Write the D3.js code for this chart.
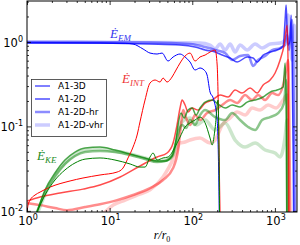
<!DOCTYPE html>
<html><head><meta charset="utf-8">
<script src="https://cdn.jsdelivr.net/npm/d3@7"></script>
<style>body{margin:0;background:#fff} svg{display:block}</style>
</head><body><svg id="c" width="300" height="245"></svg>
<script>
// ---- data (r/r0, value) ----
const rEM3D = [1, 2.51, 7.65, 15.4, 19.2, 25.4, 30.8, 37.5, 43.1, 50.9, 58.6, 71.1, 81.8, 94, 108, 124, 139, 151, 164, 179, 200, 211, 217];
const vEM3D = [0.97, 0.97, 0.97, 0.963, 0.944, 0.824, 0.738, 0.719, 0.738, 0.594, 0.663, 0.719, 0.663, 0.578, 0.465, 0.491, 0.465, 0.406, 0.255, 0.217, 0.119, 0.0134, 0.001];
const rEM2D = [1, 7.65, 30.8, 71.1, 108, 143, 189, 230, 287, 349, 461, 545, 609, 720, 875, 1064, 1257, 1328, 1367, 1406, 1445, 1528, 1571, 1615, 1661, 1708];
const vEM2D = [0.984, 0.97, 0.944, 0.919, 0.87, 0.802, 0.759, 0.699, 0.645, 0.578, 0.663, 0.645, 0.578, 0.699, 0.759, 0.802, 0.894, 1.82, 2.73, 1.38, 0.919, 1.05, 2.08, 0.611, 0.0525, 0.001];
const rEMhr = [1, 30.8, 94, 143, 189, 250, 303, 379, 474, 545, 626, 761, 925, 1156, 1328, 1406, 1486, 1571, 1615, 1661, 1708, 1756];
const vEMhr = [1.0, 0.984, 0.944, 0.87, 0.802, 0.738, 0.611, 0.681, 0.699, 0.519, 0.611, 0.681, 0.802, 0.847, 0.919, 1.21, 0.802, 1.58, 1.82, 0.611, 0.0525, 0.001];
const rEMvhr = [1, 30.8, 124, 164, 189, 217, 250, 287, 330, 379, 461, 576, 700, 875, 1156, 1328, 1445, 1528, 1615, 1708, 1756, 1806];
const vEMvhr = [1.0, 0.984, 0.97, 0.919, 0.824, 0.944, 0.802, 0.944, 0.759, 0.919, 0.802, 0.944, 0.847, 0.944, 0.97, 1.05, 2.08, 1.05, 0.611, 1.58, 0.802, 0.001];

const rINT3D = [1, 1.03, 1.09, 1.25, 1.44, 1.9, 3.32, 4.76, 7.65, 12.3, 14.5, 16.7, 19.2, 21.5, 23.3, 26.8, 30.8, 35.5, 40.7, 44.3, 49.5, 56.9, 63.6, 71.1, 81.8, 94, 108, 124, 143, 164, 189, 200, 211, 223];
const vINT3D = [0.0097, 0.0117, 0.0134, 0.0154, 0.0167, 0.0191, 0.0226, 0.0245, 0.0266, 0.0288, 0.0321, 0.0423, 0.057, 0.0791, 0.113, 0.205, 0.326, 0.354, 0.335, 0.374, 0.335, 0.384, 0.465, 0.562, 0.681, 0.738, 0.594, 0.663, 0.699, 0.759, 0.802, 0.533, 0.0525, 0.001];
const rINT2D = [1, 1.44, 2.51, 4.76, 7.65, 13.4, 23.3, 37.5, 49.5, 58.6, 65.4, 71.1, 75.3, 81.8, 88.9, 99.5, 118, 143, 174, 217, 271, 330, 401, 501, 609, 720, 875, 1005, 1156, 1292, 1406, 1445, 1486];
const vINT2D = [0.0131, 0.0146, 0.0163, 0.0181, 0.0202, 0.0252, 0.034, 0.0434, 0.0484, 0.0636, 0.104, 0.165, 0.205, 0.179, 0.148, 0.165, 0.156, 0.189, 0.205, 0.235, 0.223, 0.27, 0.248, 0.285, 0.248, 0.309, 0.354, 0.429, 0.611, 0.919, 1.58, 0.465, 0.001];
const rINThr = [1, 1.44, 2.18, 3.05, 5.04, 7.65, 12.3, 19.2, 30.8, 44.3, 58.6, 67.3, 73.1, 77.4, 84.1, 94, 108, 124, 151, 189, 230, 287, 349, 436, 530, 626, 761, 925, 1094, 1257, 1367, 1445, 1528, 1571];
const vINThr = [0.0124, 0.0117, 0.0108, 0.0102, 0.0111, 0.012, 0.0134, 0.0154, 0.0186, 0.0232, 0.0321, 0.0525, 0.104, 0.156, 0.126, 0.104, 0.136, 0.119, 0.144, 0.156, 0.179, 0.205, 0.189, 0.235, 0.205, 0.235, 0.205, 0.248, 0.235, 0.309, 0.465, 0.611, 0.0134, 0.001];
const rINTvhr = [7.0, 8.79, 11.0, 15.4, 21.5, 30.8, 44.3, 61.9, 71.1, 81.8, 94, 124, 164, 189, 230, 287, 349, 436, 530, 662, 827, 1035, 1257, 1406, 1486];
const vINTvhr = [0.008, 0.0097, 0.0117, 0.0134, 0.0154, 0.0177, 0.0252, 0.0458, 0.0636, 0.0653, 0.069, 0.0729, 0.0636, 0.069, 0.104, 0.126, 0.148, 0.136, 0.165, 0.156, 0.179, 0.165, 0.205, 0.235, 0.001];

const rKE3D = [1.32, 1.65, 2.18, 2.88, 3.81, 5.04, 7.65, 11.6, 17.7, 23.3, 26.8, 30.8, 33.5, 37.5, 44.3, 50.9, 61.9, 71.1, 81.8, 94, 108, 124, 143, 164, 174, 189, 205, 211, 217];
const vKE3D = [0.0097, 0.0154, 0.0232, 0.0305, 0.0369, 0.041, 0.0423, 0.04, 0.0359, 0.033, 0.033, 0.0434, 0.0484, 0.04, 0.0423, 0.0434, 0.057, 0.0748, 0.0984, 0.11, 0.119, 0.129, 0.11, 0.0729, 0.0602, 0.0957, 0.205, 0.04, 0.001];
const rKE2D = [1.32, 1.65, 2.18, 2.88, 3.81, 5.04, 7.65, 11.6, 17.7, 26.8, 37.5, 46.9, 56.9, 63.6, 67.3, 73.1, 79.6, 88.9, 99.5, 111, 124, 143, 174, 205, 250, 303, 379, 461, 576, 720, 875, 1064, 1257, 1328, 1367, 1406];
const vKE2D = [0.0097, 0.0177, 0.0281, 0.04, 0.0497, 0.0555, 0.057, 0.0525, 0.0471, 0.0423, 0.0389, 0.0389, 0.0446, 0.069, 0.104, 0.144, 0.126, 0.156, 0.165, 0.136, 0.165, 0.194, 0.205, 0.184, 0.165, 0.179, 0.17, 0.194, 0.205, 0.223, 0.255, 0.27, 0.292, 0.562, 0.205, 0.001];
const rKEhr = [1.32, 1.65, 2.18, 2.88, 3.81, 5.04, 7.65, 11.6, 17.7, 26.8, 37.5, 46.9, 56.9, 63.6, 69.2, 75.3, 84.1, 94, 108, 124, 143, 189, 250, 303, 379, 474, 576, 700, 875, 1094, 1292, 1367, 1406, 1445];
const vKEhr = [0.0097, 0.0163, 0.0258, 0.0359, 0.0446, 0.0497, 0.0512, 0.0497, 0.0458, 0.0411, 0.0379, 0.0389, 0.0446, 0.0653, 0.0906, 0.104, 0.0957, 0.119, 0.104, 0.136, 0.156, 0.129, 0.119, 0.144, 0.119, 0.0984, 0.0906, 0.119, 0.129, 0.144, 0.189, 0.354, 0.119, 0.001];
const rKEvhr = [1.36, 1.70, 2.24, 2.97, 3.92, 5.18, 7.65, 11.6, 17.7, 26.8, 37.5, 49.5, 58.6, 65.4, 71.1, 79.6, 94, 113, 143, 189, 250, 330, 436, 576, 761, 1005, 1156, 1328, 1406, 1445];
const vKEvhr = [0.0097, 0.0167, 0.0266, 0.0379, 0.0471, 0.0525, 0.054, 0.0512, 0.0471, 0.0423, 0.0389, 0.04, 0.0458, 0.069, 0.104, 0.119, 0.126, 0.104, 0.119, 0.0906, 0.11, 0.069, 0.057, 0.0636, 0.0525, 0.0484, 0.0434, 0.0748, 0.119, 0.001];

const legendLabels = ["A1-3D", "A1-2D", "A1-2D-hr", "A1-2D-vhr"];
const xMajor = [1, 10, 100, 1000];
const yMajor = [0.01, 0.1, 1];

// ---- styles ----
const BLUE = "#0000ff", RED = "#ff0000", GREEN = "#008000";
const simStyle = [
  {alpha: 1.0, w: 1.0},
  {alpha: 0.7, w: 1.5},
  {alpha: 0.45, w: 2.5},
  {alpha: 0.2, w: 3.5}
];

const series = [
  {r: rEMvhr, v: vEMvhr, c: BLUE, s: 3}, {r: rINTvhr, v: vINTvhr, c: RED, s: 3}, {r: rKEvhr, v: vKEvhr, c: GREEN, s: 3},
  {r: rEMhr, v: vEMhr, c: BLUE, s: 2}, {r: rINThr, v: vINThr, c: RED, s: 2}, {r: rKEhr, v: vKEhr, c: GREEN, s: 2},
  {r: rEM2D, v: vEM2D, c: BLUE, s: 1}, {r: rINT2D, v: vINT2D, c: RED, s: 1}, {r: rKE2D, v: vKE2D, c: GREEN, s: 1},
  {r: rEM3D, v: vEM3D, c: BLUE, s: 0}, {r: rINT3D, v: vINT3D, c: RED, s: 0}, {r: rKE3D, v: vKE3D, c: GREEN, s: 0}
];

const L = 27, R = 297, T = 1, B = 212;
const x = d3.scaleLog().domain([1, 1850]).range([L, R]);
const y = d3.scaleLog().domain([0.0097, 3.05]).range([B, T]);

const svg = d3.select("#c");
svg.append("defs").append("clipPath").attr("id", "clip")
  .append("rect").attr("x", L).attr("y", T).attr("width", R - L).attr("height", B - T);

const line = d3.line().x(d => x(d[0])).y(d => y(d[1])).curve(d3.curveMonotoneX);
const gLines = svg.append("g").attr("clip-path", "url(#clip)");
series.forEach(sr => {
  const pts = sr.r.map((r, i) => [r, sr.v[i]]);
  gLines.append("path").attr("d", line(pts)).attr("fill", "none")
    .attr("stroke", sr.c).attr("stroke-opacity", simStyle[sr.s].alpha)
    .attr("stroke-width", simStyle[sr.s].w).attr("stroke-linejoin", "round");
});

// ---- axes (inward ticks on all sides) ----
function minorTicks(lo, hi) {
  const out = [];
  for (let e = Math.floor(Math.log10(lo)); e <= Math.ceil(Math.log10(hi)); e++)
    for (let m = 2; m <= 9; m++) { const v = m * Math.pow(10, e); if (v > lo && v < hi) out.push(v); }
  return out;
}
const xMinor = minorTicks(1, 1850), yMinor = minorTicks(0.0097, 3.05);
function addAxis(gen, scale, major, minor, tr) {
  const g1 = svg.append("g").attr("transform", tr)
    .call(gen(scale).tickValues(major).tickSizeInner(-4).tickSizeOuter(0).tickFormat(""));
  const g2 = svg.append("g").attr("transform", tr)
    .call(gen(scale).tickValues(minor).tickSizeInner(-2).tickSizeOuter(0).tickFormat(""));
  [g1, g2].forEach(g => { g.select(".domain").remove(); g.selectAll("line").attr("stroke", "#000").attr("stroke-width", 0.8); });
}
addAxis(d3.axisBottom, x, xMajor, xMinor, `translate(0,${B})`);
addAxis(d3.axisTop, x, xMajor, xMinor, `translate(0,${T})`);
addAxis(d3.axisLeft, y, yMajor, yMinor, `translate(${L},0)`);
addAxis(d3.axisRight, y, yMajor, yMinor, `translate(${R},0)`);
svg.append("rect").attr("x", L).attr("y", T).attr("width", R - L).attr("height", B - T)
  .attr("fill", "none").attr("stroke", "#000").attr("stroke-width", 1);

// tick labels
const tickFont = "DejaVu Sans";
xMajor.forEach(v => {
  const t = svg.append("text").attr("x", x(v) + 1).attr("y", 225).attr("text-anchor", "middle")
    .attr("font-family", tickFont).attr("font-size", 11.5).attr("fill", "#000");
  t.append("tspan").text("10");
  t.append("tspan").attr("dy", -5).attr("font-size", 8).text(String(Math.round(Math.log10(v))));
});
yMajor.forEach(v => {
  const e = Math.round(Math.log10(v));
  const t = svg.append("text").attr("x", 23).attr("y", y(v) + 5).attr("text-anchor", "end")
    .attr("font-family", tickFont).attr("font-size", 11.5).attr("fill", "#000");
  t.append("tspan").text("10");
  t.append("tspan").attr("dy", -5).attr("font-size", 8).text(e < 0 ? "-" + (-e) : String(e));
});

// axis label
const xl = svg.append("text").attr("x", 162).attr("y", 239).attr("text-anchor", "middle")
  .attr("font-family", "Liberation Serif").attr("font-style", "italic").attr("font-size", 12).attr("fill", "#000");
xl.append("tspan").text("r/r");
xl.append("tspan").attr("dy", 2.5).attr("font-size", 8).attr("font-style", "normal").text("0");

// curve labels
function eLabel(px, py, sub, col) {
  const t = svg.append("text").attr("x", px).attr("y", py).attr("fill", col)
    .attr("font-family", "Liberation Serif").attr("font-style", "italic").attr("font-size", 13);
  t.append("tspan").text("Ė");
  t.append("tspan").attr("dy", 3).attr("font-size", 9).text(sub);
}
eLabel(110, 38, "EM", "#3333ee");
eLabel(122, 83, "INT", "#ee3333");
eLabel(37, 160, "KE", "#228b22");

// legend
const lg = svg.append("g");
lg.append("rect").attr("x", 31.5).attr("y", 79.5).attr("width", 75).attr("height", 57)
  .attr("fill", "#fff").attr("stroke", "#333").attr("stroke-width", 0.8);
legendLabels.forEach((lab, i) => {
  const yy = 86 + i * 13;
  lg.append("line").attr("x1", 35).attr("x2", 50).attr("y1", yy).attr("y2", yy)
    .attr("stroke", BLUE).attr("stroke-opacity", simStyle[i].alpha).attr("stroke-width", simStyle[i].w);
  lg.append("text").attr("x", 58).attr("y", yy + 3.3).attr("font-family", "DejaVu Sans")
    .attr("font-size", 9).attr("fill", "#000").text(lab);
});
</script></body></html>
